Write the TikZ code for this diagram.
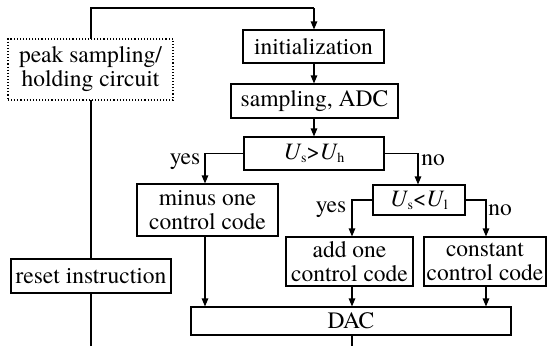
\documentclass[tikz,border=0pt]{standalone}
\usepackage{fontspec}
\setmainfont{texgyretermes}[Extension=.otf, UprightFont=*-regular, ItalicFont=*-italic, BoldFont=*-bold]
\usetikzlibrary{arrows.meta}
\newcommand\Usb[1]{\textit{U}\kern-0.02em\raisebox{-0.3ex}{\fontsize{14}{14}\selectfont #1}}
\tikzset{
  box/.style={draw, line width=1.1pt, fill=white, inner sep=0pt, align=center,
    font=\fontsize{23.5}{24}\selectfont},
  dotbox/.style={box, dotted, line width=1.3pt},
  conn/.style={line width=1.1pt},
  arr/.style={conn, -{Triangle[length=8pt,width=6.5pt]}},
  lbl/.style={font=\fontsize{23.5}{24}\selectfont, inner sep=0pt}
}
\begin{document}
\begin{tikzpicture}[x=1pt,y=-1pt]
\useasboundingbox (0,0) rectangle (547,346);
% corner coordinates
\coordinate (top) at (91,8);
\coordinate (topR) at (314,8);
\coordinate (bot) at (91,346);
\coordinate (dacout) at (352,346);
% left line first (boxes cover it)
\draw[conn] (bot) -- (top) -- (topR);
% nodes
\node[dotbox, minimum width=165pt, minimum height=61pt] (peak) at (90.5,69.5) {peak sampling/\\holding circuit};
\node[box, minimum width=160pt, minimum height=34pt] (reset) at (91,276) {reset instruction};
\node[box, minimum width=141pt, minimum height=33pt] (init) at (313.5,46.5) {initialization};
\node[box, minimum width=167pt, minimum height=34pt] (samp) at (314.5,101) {sampling, ADC};
\node[box, minimum width=140pt, minimum height=33pt] (cmpa) at (314,153.5) {\Usb{s}>\Usb{h}};
\node[box, minimum width=141pt, minimum height=52pt] (minus) at (207.5,210) {minus one\\control code};
\node[box, minimum width=92pt, minimum height=30pt] (cmpb) at (419,200) {\Usb{s}<\Usb{l}};
\node[box, minimum width=127pt, minimum height=49pt] (add) at (349.5,261.5) {add one\\control code};
\node[box, minimum width=122pt, minimum height=49pt] (const) at (485,261.5) {constant\\control code};
\node[box, minimum width=320pt, minimum height=28pt] (dac) at (351,321) {DAC};
% connectors
\draw[arr] (topR) -- (init.north -| topR);
\draw[arr] (init.south -| 314,0) -- (samp.north -| 314,0);
\draw[arr] (samp.south -| 314,0) -- (cmpa.north -| 314,0);
\draw[arr] (cmpa.west) -| (205,0 |- minus.north);
\draw[arr] (cmpa.east) -| (418,0 |- cmpb.north);
\draw[arr] (cmpb.west) -| (352,0 |- add.north);
\draw[arr] (cmpb.east) -| (486,0 |- const.north);
\draw[arr] (minus.south -| 205,0) -- (dac.north -| 205,0);
\draw[arr] (add.south -| 352,0) -- (dac.north -| 352,0);
\draw[arr] (const.south -| 486,0) -- (dac.north -| 486,0);
\draw[conn] (dac.south -| dacout) -- (dacout);
% labels
\node[lbl] (y1) at (185,162) {yes};
\node[lbl] (n1) at (433,160) {no};
\node[lbl] (y2) at (331,210) {yes};
\node[lbl] (n2) at (500,210) {no};
\end{tikzpicture}
\end{document}
